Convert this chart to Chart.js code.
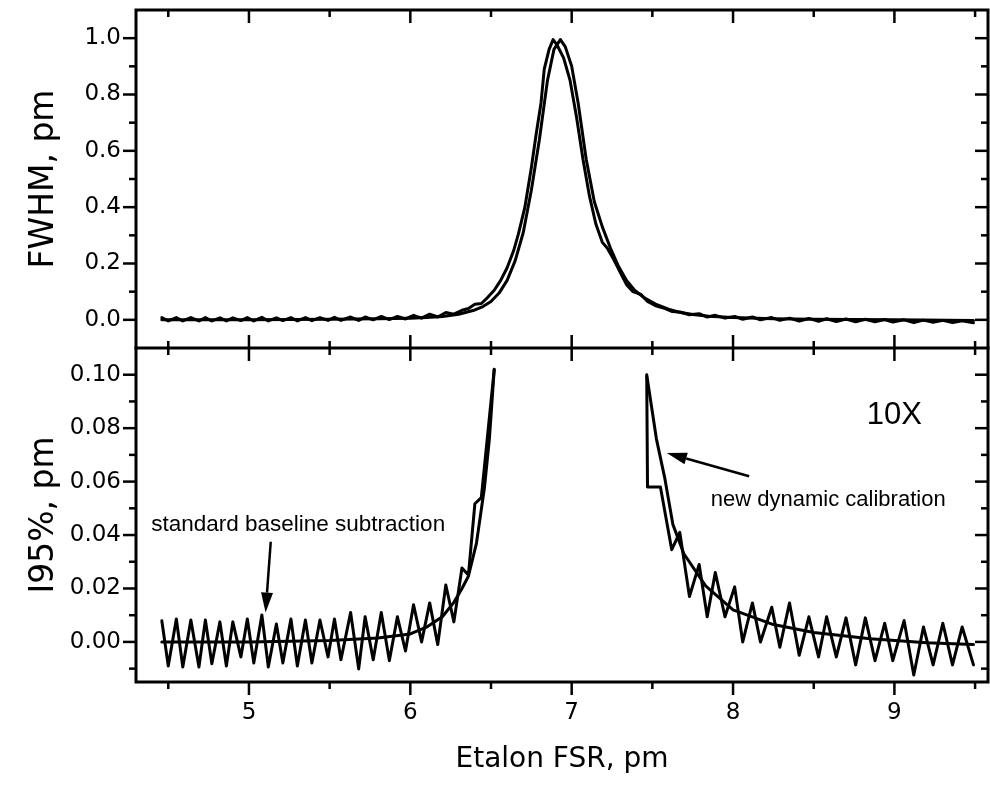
<!DOCTYPE html>
<html><head><meta charset="utf-8">
<script src="https://cdn.jsdelivr.net/npm/chart.js@4.4.1/dist/chart.umd.min.js"></script>
<style>html,body{margin:0;padding:0;background:#fff;}canvas{display:block;}</style>
</head><body>
<canvas id="c" width="990" height="785"></canvas>
<script>
// ---------- axes / tick data ----------
const xMin = 4.3, xMax = 9.58;
const xTickValues = [5, 6, 7, 8, 9];
const xTickLabels = ['5', '6', '7', '8', '9'];
const xMinorTicks = [4.5, 5.5, 6.5, 7.5, 8.5, 9.5];
const yTopMin = -0.1, yTopMax = 1.1;
const yTopTickValues = [0, 0.2, 0.4, 0.6, 0.8, 1.0];
const yTopTickLabels = ['0.0', '0.2', '0.4', '0.6', '0.8', '1.0'];
const yTopMinorTicks = [0.1, 0.3, 0.5, 0.7, 0.9];
const yBotMin = -0.015, yBotMax = 0.11;
const yBotTickValues = [0, 0.02, 0.04, 0.06, 0.08, 0.10];
const yBotTickLabels = ['0.00', '0.02', '0.04', '0.06', '0.08', '0.10'];
const yBotMinorTicks = [-0.01, 0.01, 0.03, 0.05, 0.07, 0.09];

// ---------- top panel: FWHM ----------
const xTopMeas = [4.46,4.50,4.55,4.59,4.64,4.69,4.73,4.77,4.82,4.86,4.90,4.95,4.99,5.03,5.08,5.12,5.17,5.21,5.26,5.30,
  5.35,5.39,5.44,5.49,5.53,5.57,5.63,5.68,5.72,5.77,5.82,5.87,5.92,5.97,6.02,6.07,6.12,6.17,6.22,6.27,
  6.32,6.36,6.40,6.44,6.48,6.52,6.56,6.60,6.64,6.67,6.71,6.75,6.78,6.81,6.83,6.86,6.885,6.91,6.95,6.99,
  7.03,7.07,7.11,7.15,7.19,7.22,7.26,7.30,7.34,7.38,7.43,7.47,7.52,7.58,7.62,7.67,7.73,7.79,7.84,7.89,
  7.95,8.01,8.06,8.12,8.17,8.24,8.29,8.35,8.41,8.47,8.53,8.58,8.64,8.70,8.76,8.82,8.88,8.94,8.99,9.06,
  9.12,9.18,9.24,9.30,9.36,9.42,9.49];
const yTopMeas = [0.008,-0.004,0.008,-0.004,0.008,-0.004,0.008,-0.004,0.007,-0.004,0.007,-0.003,0.008,-0.004,0.009,-0.004,0.007,-0.003,0.008,-0.004,
  0.008,-0.003,0.008,-0.002,0.009,-0.002,0.010,-0.002,0.010,0.000,0.012,0.001,0.012,0.003,0.016,0.006,0.020,0.010,0.026,0.020,
  0.034,0.040,0.055,0.058,0.080,0.105,0.140,0.185,0.245,0.305,0.400,0.540,0.660,0.770,0.890,0.960,0.995,0.975,0.930,0.850,
  0.720,0.570,0.440,0.340,0.275,0.255,0.215,0.170,0.125,0.100,0.090,0.065,0.050,0.040,0.030,0.028,0.018,0.022,0.010,0.016,
  0.006,0.012,0.002,0.010,0.000,0.008,-0.002,0.006,-0.004,0.005,-0.005,0.004,-0.006,0.003,-0.007,0.002,-0.007,0.001,-0.008,0.000,
  -0.010,-0.001,-0.009,-0.002,-0.010,-0.003,-0.010];
const xTopFit = [4.46,5.00,5.50,5.80,6.00,6.10,6.20,6.30,6.40,6.45,6.50,6.55,6.60,6.65,6.70,6.75,6.80,6.85,6.89,6.93,
  6.96,7.00,7.04,7.09,7.14,7.19,7.24,7.29,7.34,7.39,7.45,7.52,7.60,7.66,7.75,7.85,8.00,8.25,8.50,9.00,9.49];
const yTopFit = [0.000,0.000,0.002,0.004,0.006,0.008,0.012,0.020,0.035,0.047,0.065,0.095,0.140,0.210,0.310,0.460,0.640,0.850,0.960,0.995,
  0.970,0.900,0.770,0.570,0.420,0.330,0.255,0.190,0.140,0.105,0.078,0.056,0.038,0.028,0.019,0.013,0.008,0.004,0.002,0.000,-0.002];

// ---------- bottom panel: I95% (10X) ----------
const xBotStd = [4.46,4.50,4.55,4.59,4.64,4.69,4.73,4.77,4.82,4.86,4.90,4.95,4.99,5.03,5.08,5.12,5.17,5.21,5.26,5.30,
  5.35,5.39,5.44,5.49,5.53,5.57,5.63,5.68,5.72,5.77,5.82,5.87,5.92,5.97,6.02,6.07,6.12,6.17,6.22,6.27,
  6.32,6.36,6.40,6.44,6.52,7.00,7.465,7.47,7.55,7.62,7.67,7.73,7.79,7.84,7.89,7.95,8.01,8.06,8.12,8.17,
  8.24,8.29,8.35,8.41,8.47,8.53,8.58,8.64,8.70,8.76,8.82,8.88,8.94,8.99,9.06,9.12,9.18,9.24,9.30,9.36,
  9.42,9.49];
const yBotStd = [0.0079,-0.0090,0.0086,-0.0094,0.0082,-0.0094,0.0082,-0.0082,0.0075,-0.0090,0.0075,-0.0056,0.0086,-0.0079,0.0101,-0.0094,0.0067,-0.0079,0.0086,-0.0090,
  0.0082,-0.0079,0.0082,-0.0056,0.0086,-0.0067,0.0110,-0.0101,0.0094,-0.0067,0.0110,-0.0070,0.0094,-0.0034,0.0139,0.0000,0.0146,-0.0010,0.0213,0.0075,
  0.0277,0.0250,0.0517,0.0540,0.1020,null,0.0993,0.0580,0.0580,0.0345,0.0410,0.0170,0.0290,0.0094,0.0260,0.0094,0.0206,0.0000,0.0146,0.0000,
  0.0130,-0.0020,0.0146,-0.0050,0.0094,-0.0056,0.0094,-0.0056,0.0090,-0.0086,0.0090,-0.0070,0.0070,-0.0070,0.0080,-0.0124,0.0056,-0.0086,0.0070,-0.0086,
  0.0056,-0.0086];
const xBotFit = [4.46,5.00,5.50,5.80,6.00,6.10,6.20,6.27,6.32,6.36,6.41,6.46,6.49,6.52,7.00,7.465,7.525,7.576,7.627,7.695,
  7.83,8.00,8.25,8.50,8.85,9.20,9.49];
const yBotFit = [0.0000,0.0000,0.0005,0.0015,0.0030,0.0055,0.0095,0.0148,0.0200,0.0246,0.0370,0.0580,0.0760,0.1020,null,0.1000,0.0760,0.0616,0.0440,0.0330,
  0.0210,0.0120,0.0065,0.0035,0.0012,-0.0003,-0.0010];

// ---------- annotations (data coordinates) ----------
const annText = [
  {text: '10X', x: 9.0, y: 0.0815, size: 31},
  {text: 'new dynamic calibration', x: 8.59, y: 0.0507, size: 22},
  {text: 'standard baseline subtraction', x: 5.305, y: 0.0415, size: 22.5}
];
const annArrows = [
  {x1: 5.135, y1: 0.0375, x2: 5.103, y2: 0.011},
  {x1: 8.10, y1: 0.0620, x2: 7.59, y2: 0.0707}
];

const FONT = "'Liberation Sans', Arial, Helvetica, sans-serif";
const AXFONT = "'DejaVu Sans', 'Liberation Sans', sans-serif";
const pts = (xs, ys) => xs.map((x, i) => ({x: x, y: ys[i]}));
const lineDs = (xs, ys, axis) => ({
  data: pts(xs, ys), yAxisID: axis, borderColor: '#000', borderWidth: 3,
  pointRadius: 0, tension: 0, spanGaps: false, fill: false,
  borderJoinStyle: 'round', borderCapStyle: 'round'
});

const MAJ = 13, MIN = 7;
const framePlugin = {
  id: 'frame',
  afterDraw(chart) {
    const {ctx, chartArea: a, scales} = chart;
    const sx = scales.x, st = scales.yTop, sb = scales.yBot;
    const mid = st.bottom;
    const seg = (x1, y1, x2, y2) => { ctx.beginPath(); ctx.moveTo(x1, y1); ctx.lineTo(x2, y2); ctx.stroke(); };
    ctx.save();
    ctx.strokeStyle = '#000'; ctx.fillStyle = '#000';
    ctx.lineWidth = 3; ctx.lineCap = 'square';
    ctx.strokeRect(a.left, a.top, a.right - a.left, a.bottom - a.top);
    seg(a.left, mid, a.right, mid);
    ctx.lineWidth = 2.5; ctx.lineCap = 'butt';
    const xt = (vals, len) => vals.forEach(v => {
      const p = sx.getPixelForValue(v);
      seg(p, a.bottom, p, a.bottom + len);
      seg(p, a.top, p, a.top + len);
      seg(p, mid - len, p, mid + len);
    });
    xt(xTickValues, MAJ); xt(xMinorTicks, MIN);
    const yt = (scale, vals, len) => vals.forEach(v => {
      const p = scale.getPixelForValue(v);
      seg(a.left - len, p, a.left, p);
      seg(a.right - len, p, a.right, p);
    });
    yt(st, yTopTickValues, MAJ); yt(st, yTopMinorTicks, MIN);
    yt(sb, yBotTickValues, MAJ); yt(sb, yBotMinorTicks, MIN);
    // annotations
    ctx.textAlign = 'center'; ctx.textBaseline = 'alphabetic';
    annText.forEach(t => {
      ctx.font = t.size + 'px ' + FONT;
      ctx.fillText(t.text, sx.getPixelForValue(t.x), sb.getPixelForValue(t.y));
    });
    ctx.lineWidth = 2.5;
    annArrows.forEach(ar => {
      const x1 = sx.getPixelForValue(ar.x1), y1 = sb.getPixelForValue(ar.y1);
      const x2 = sx.getPixelForValue(ar.x2), y2 = sb.getPixelForValue(ar.y2);
      const ang = Math.atan2(y2 - y1, x2 - x1), hl = 20, hw = 6;
      const bx = x2 - hl * Math.cos(ang), by = y2 - hl * Math.sin(ang);
      seg(x1, y1, bx, by);
      ctx.beginPath(); ctx.moveTo(x2, y2);
      ctx.lineTo(bx + hw * Math.sin(ang), by - hw * Math.cos(ang));
      ctx.lineTo(bx - hw * Math.sin(ang), by + hw * Math.cos(ang));
      ctx.closePath(); ctx.fill();
    });
    ctx.restore();
  }
};

const yAxis = (min, max, tv, tl, title, weight) => ({
  type: 'linear', position: 'left', stack: 'panels', stackWeight: weight, min: min, max: max,
  afterBuildTicks: s => { s.ticks = tv.map(v => ({value: v})); },
  ticks: { callback: (v, i) => tl[i], font: {family: AXFONT, size: 23}, color: '#000', padding: 15, autoSkip: false },
  grid: { display: false, drawTicks: false },
  border: { display: false },
  title: { display: true, text: title, font: {family: AXFONT, size: 33}, color: '#000', padding: {top: 25, bottom: 0} },
  afterFit: s => { s.width = 136; s.paddingTop = 0; s.paddingBottom = 0; }
});

new Chart(document.getElementById('c'), {
  type: 'line',
  data: { datasets: [
    lineDs(xTopFit, yTopFit, 'yTop'),
    lineDs(xTopMeas, yTopMeas, 'yTop'),
    lineDs(xBotFit, yBotFit, 'yBot'),
    lineDs(xBotStd, yBotStd, 'yBot')
  ]},
  options: {
    responsive: false, animation: false, devicePixelRatio: 1,
    layout: { padding: {top: 10, right: 2, bottom: 0, left: 0} },
    plugins: { legend: {display: false}, tooltip: {enabled: false} },
    scales: {
      x: {
        type: 'linear', position: 'bottom', min: xMin, max: xMax,
        afterBuildTicks: s => { s.ticks = xTickValues.map(v => ({value: v})); },
        ticks: { callback: (v, i) => xTickLabels[i], font: {family: AXFONT, size: 23}, color: '#000', padding: 17, maxRotation: 0, autoSkip: false },
        grid: { display: false, drawTicks: false },
        border: { display: false },
        title: { display: true, text: 'Etalon FSR, pm', font: {family: AXFONT, size: 28}, color: '#000', padding: {top: 0, bottom: 8} },
        afterFit: s => { s.height = 103; s.paddingLeft = 0; s.paddingRight = 0; }
      },
      yBot: yAxis(yBotMin, yBotMax, yBotTickValues, yBotTickLabels, 'I95%, pm', 334),
      yTop: yAxis(yTopMin, yTopMax, yTopTickValues, yTopTickLabels, 'FWHM, pm', 338)
    }
  },
  plugins: [framePlugin]
});
</script>
</body></html>
